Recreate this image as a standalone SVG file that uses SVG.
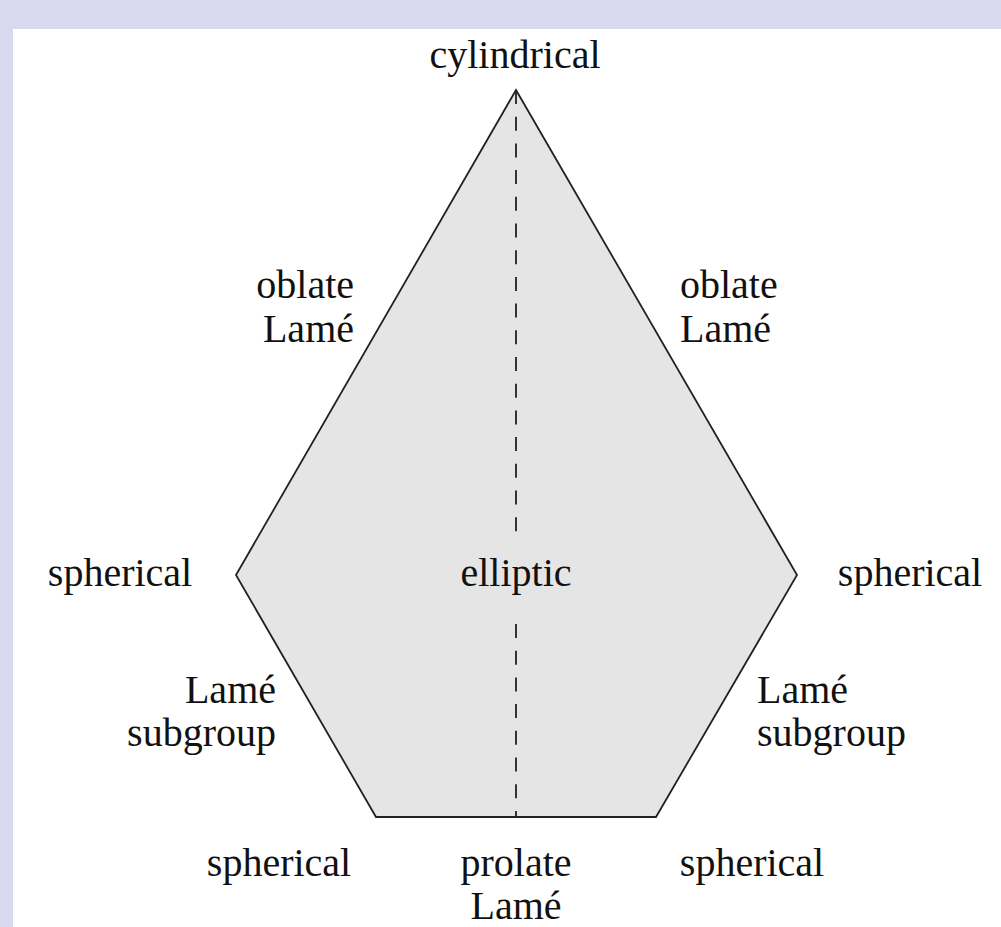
<svg xmlns="http://www.w3.org/2000/svg" width="1001" height="927" viewBox="0 0 1001 927">
<style>
.t{font-family:"Liberation Serif","Times New Roman",serif;font-size:40px;fill:#111}
.m{text-anchor:middle}
.e{text-anchor:end}
.s{text-anchor:start}
</style>
<rect x="0" y="0" width="1001" height="927" fill="#d8d8ee"/>
<rect x="13" y="29" width="988" height="898" fill="#ffffff"/>
<g id="shape">
<polygon points="516,90 797,575 656,817 376,817 236,575" fill="#e5e5e5" stroke="#222" stroke-width="1.8" stroke-linejoin="miter"/>
</g>
<g id="connectors">
<line x1="516" y1="90" x2="516" y2="817" stroke="#222" stroke-width="1.8" stroke-dasharray="14 12.7"/>
<rect x="468" y="541" width="96" height="71" fill="#e5e5e5"/>
</g>
<g id="n-cylindrical"><text class="t m" x="515" y="68">cylindrical</text></g>
<g id="n-oblate-left"><text class="t e" x="354" y="298">oblate</text><text class="t e" x="354" y="342">Lamé</text></g>
<g id="n-oblate-right"><text class="t s" x="680" y="298">oblate</text><text class="t s" x="680" y="342">Lamé</text></g>
<g id="n-spherical-left"><text class="t m" x="120" y="586">spherical</text></g>
<g id="n-elliptic"><text class="t m" x="516" y="586">elliptic</text></g>
<g id="n-spherical-right"><text class="t m" x="910" y="586">spherical</text></g>
<g id="n-lame-sub-left"><text class="t e" x="276" y="703">Lamé</text><text class="t e" x="276" y="746">subgroup</text></g>
<g id="n-lame-sub-right"><text class="t s" x="757" y="703">Lamé</text><text class="t s" x="757" y="746">subgroup</text></g>
<g id="n-spherical-bl"><text class="t m" x="279" y="876">spherical</text></g>
<g id="n-prolate"><text class="t m" x="516" y="876">prolate</text><text class="t m" x="516" y="919">Lamé</text></g>
<g id="n-spherical-br"><text class="t m" x="752" y="876">spherical</text></g>
</svg>
